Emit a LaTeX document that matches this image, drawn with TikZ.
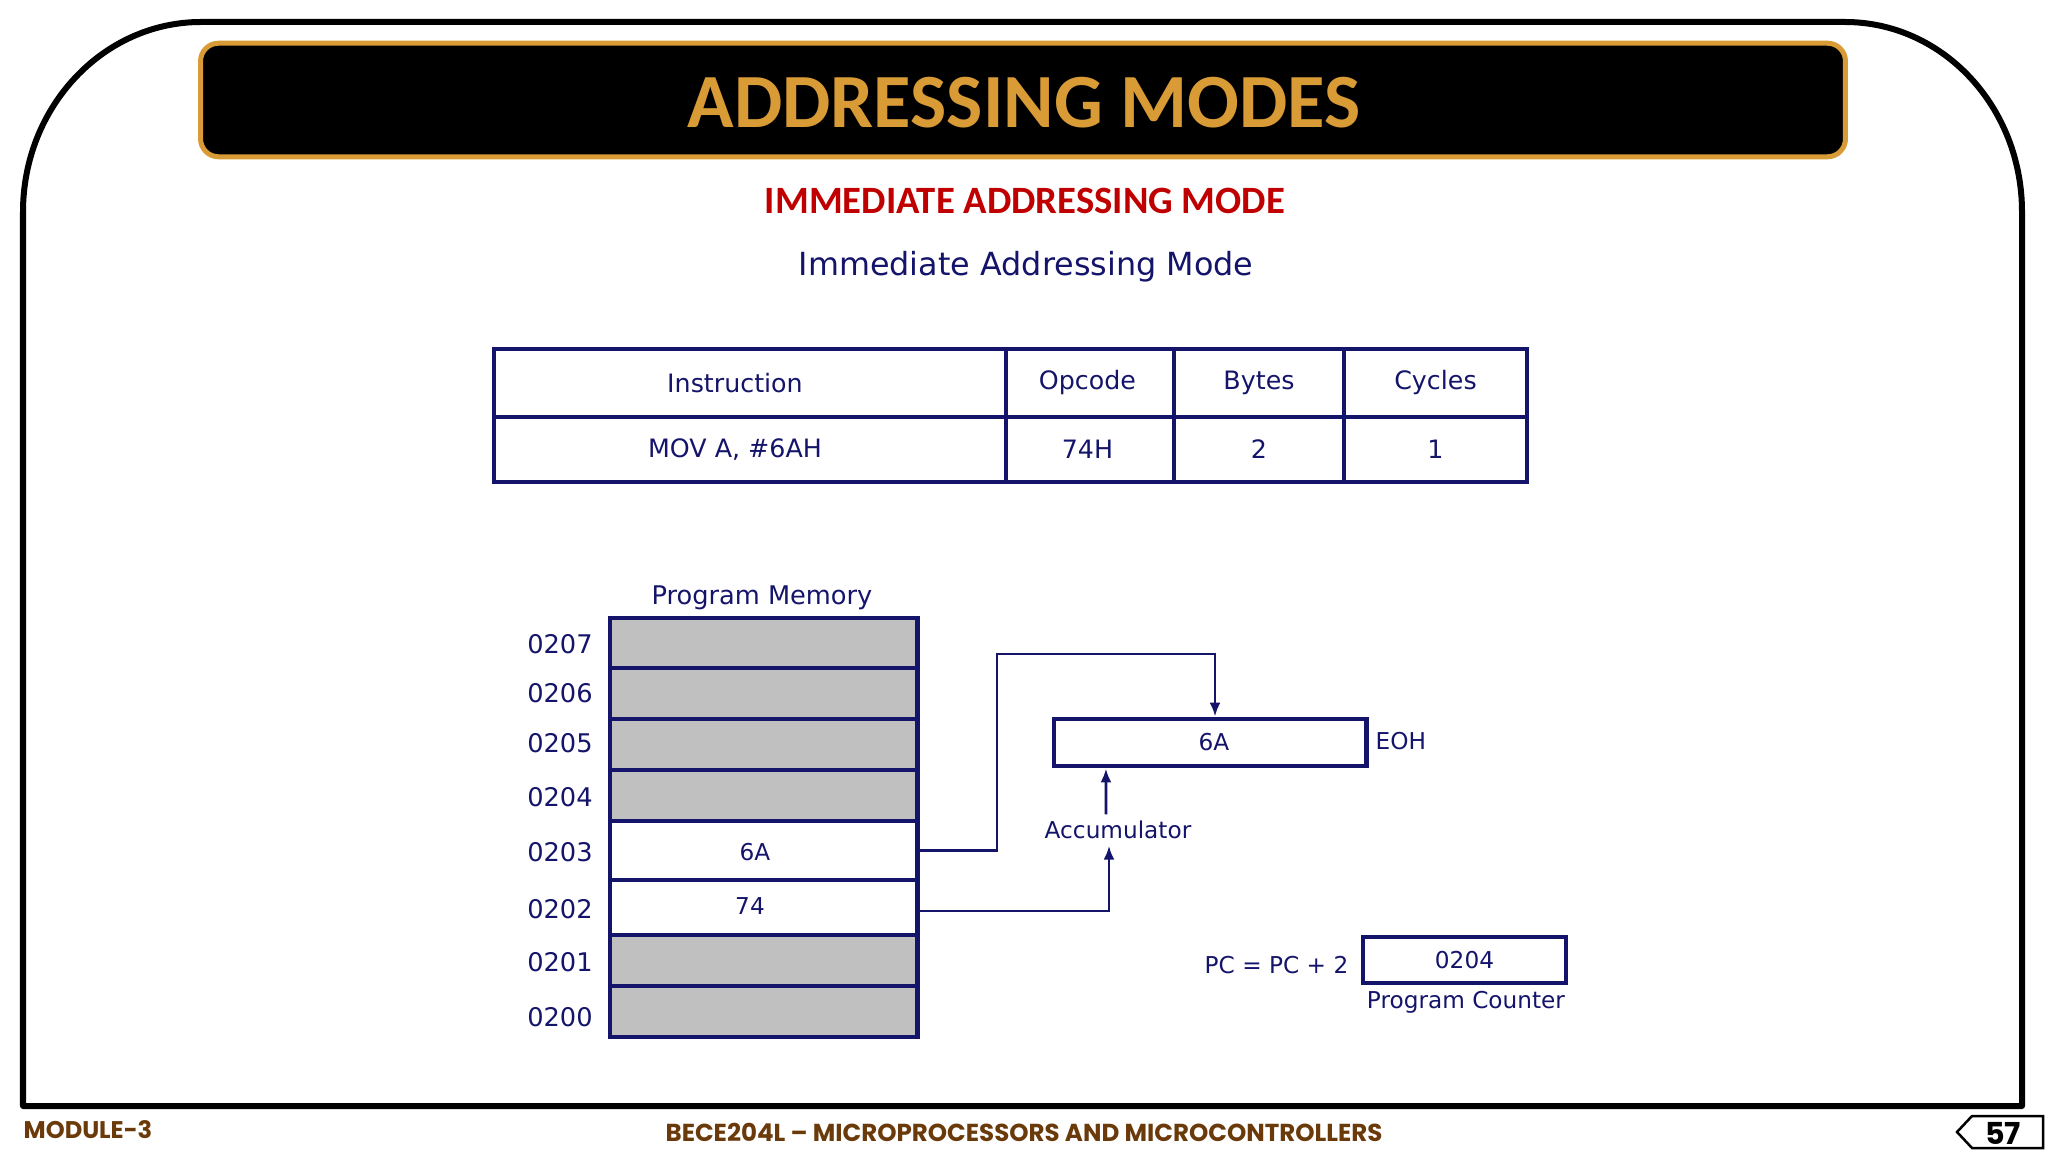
\documentclass[tikz,border=0pt]{standalone}
\usepackage{fontspec}
\usepackage{xcolor}
\usetikzlibrary{arrows.meta}
\setmainfont{DejaVu Sans}
\newfontfamily\headfont{Carlito}
\newfontfamily\footfont{Poppins}
\definecolor{navy}{HTML}{14146A}
\definecolor{gold}{HTML}{D89B35}
\definecolor{slidered}{HTML}{C00000}
\definecolor{footbrown}{HTML}{6B3A0B}
\definecolor{memgray}{HTML}{C0C0C0}
\tikzset{
    smalltext/.style={text=navy, inner sep=0pt, font=\fontsize{7.3}{9}\selectfont},
    tinytext/.style={text=navy, inner sep=0pt, font=\fontsize{6.6}{8}\selectfont},
    tablecell/.style={rectangle, draw=navy, line width=0.045cm, inner sep=0pt, text=navy, font=\fontsize{7.2}{9}\selectfont},
    memcell/.style={rectangle, draw=navy, line width=0.048cm, inner sep=0pt, minimum width=3.07cm},
    busy/.style={memcell, fill=memgray},
    free/.style={memcell, fill=white},
    regbox/.style={rectangle, draw=navy, line width=0.048cm, inner sep=0pt, fill=white, text=navy, font=\fontsize{6.6}{8}\selectfont},
    wire/.style={draw=navy, line width=0.028cm, -{Latex[length=0.14cm,width=0.11cm]}},
    footer/.style={text=footbrown, inner sep=0pt, font=\footfont\bfseries\fontsize{6.85}{8}\selectfont}
}

\begin{document}
\begin{tikzpicture}[x=0.01cm, y=-0.01cm]
    \useasboundingbox (0,0) rectangle (2048,1152);

    % slide frame
    \draw[black, line width=0.06cm, line join=round] (23,1106) -- (23,212) .. controls (23,107) and (103,22) .. (201,22) -- (1845,22) .. controls (1943,22) and (2022,107) .. (2022,212) -- (2022,1106) -- cycle;

    % heading
    \node[rectangle, rounded corners=0.18cm, draw=gold, fill=black, line width=0.05cm, minimum width=16.44cm, minimum height=1.135cm] (titlebar) at (1023,100) {};
    \node[text=gold, inner sep=0pt, font=\headfont\bfseries\fontsize{21.8}{26}\selectfont] (title) at (1024,103) {ADDRESSING MODES};
    \node[text=slidered, inner sep=0pt, font=\headfont\bfseries\fontsize{11}{13}\selectfont] (subtitle) at (1025,201) {IMMEDIATE ADDRESSING MODE};
    \node[text=navy, inner sep=0pt, font=\fontsize{9.05}{11}\selectfont] (modename) at (1026,267) {Immediate Addressing Mode};

    % table
    \node[tablecell, minimum width=5.12cm, minimum height=0.68cm] (instr) at (750,383) {\hspace*{-0.3cm}Instruction};
    \node[tablecell, minimum width=1.68cm, minimum height=0.68cm] (opcode) at (1090,383) {\hspace*{-0.05cm}Opcode};
    \node[tablecell, minimum width=1.70cm, minimum height=0.68cm] (bytes) at (1259,383) {Bytes};
    \node[tablecell, minimum width=1.83cm, minimum height=0.68cm] (cycles) at (1435.5,383) {Cycles};
    \node[tablecell, minimum width=5.12cm, minimum height=0.65cm] (mov) at (750,449.5) {\hspace*{-0.3cm}MOV A, \#6AH};
    \node[tablecell, minimum width=1.68cm, minimum height=0.65cm] (opval) at (1090,449.5) {\hspace*{-0.05cm}74H};
    \node[tablecell, minimum width=1.70cm, minimum height=0.65cm] (byteval) at (1259,449.5) {2};
    \node[tablecell, minimum width=1.83cm, minimum height=0.65cm] (cycleval) at (1435.5,449.5) {1};

    % program memory
    \node[smalltext] (memtitle) at (762,598) {Program Memory};
    \node[busy, minimum height=0.50cm] (m207) at (763.5,643) {};
    \node[busy, minimum height=0.51cm] (m206) at (763.5,693.5) {};
    \node[busy, minimum height=0.51cm] (m205) at (763.5,744.5) {};
    \node[busy, minimum height=0.51cm] (m204) at (763.5,795.5) {};
    \node[free, minimum height=0.59cm] (m203) at (763.5,850.5) {};
    \node[free, minimum height=0.55cm] (m202) at (763.5,907.5) {};
    \node[busy, minimum height=0.51cm] (m201) at (763.5,960.5) {};
    \node[busy, minimum height=0.51cm] (m200) at (763.5,1011.5) {};
    \node[tinytext] (v6a) at (755,852) {6A};
    \node[tinytext] (v74) at (750,906) {74};

    % addresses
    \node[smalltext] (a207) at (560,644) {0207};
    \node[smalltext] (a206) at (560,693) {0206};
    \node[smalltext] (a205) at (560,743) {0205};
    \node[smalltext] (a204) at (560,797) {0204};
    \node[smalltext] (a203) at (560,852) {0203};
    \node[smalltext] (a202) at (560,909) {0202};
    \node[smalltext] (a201) at (560,962) {0201};
    \node[smalltext] (a200) at (560,1017) {0200};

    % registers
    \node[regbox, minimum width=3.12cm, minimum height=0.47cm] (acc) at (1210,742.5) {\hspace*{0.08cm}6A};
    \node[tinytext, anchor=west] (eoh) at (1375,741) {EOH};
    \node[tinytext, minimum height=0.30cm] (acclabel) at (1118,830) {Accumulator};
    \node[regbox, minimum width=2.03cm, minimum height=0.46cm] (pc) at (1464.5,960) {0204};
    \node[tinytext, anchor=east] (pcnote) at (1349,965) {PC = PC + 2};
    \node[tinytext] (pclabel) at (1466,1002) {Program Counter};
    \coordinate (bend) at (997,654);

    \draw[wire] (m203.east) -| (bend) -| ([xshift=0.05cm]acc.north);
    \draw[wire] ([yshift=-0.035cm]m202.east) -| ([xshift=-0.09cm]acclabel.south);
    \draw[wire] ([xshift=-0.12cm]acclabel.north) -- ([xshift=-1.04cm]acc.south);

    % footer
    \node[footer, anchor=west] (module) at (23,1130) {MODULE-3};
    \node[footer, font=\footfont\bfseries\fontsize{6.98}{8}\selectfont] (course) at (1024,1132) {BECE204L – MICROPROCESSORS AND MICROCONTROLLERS};
    \node[inner sep=0pt, font=\footfont\bfseries\fontsize{8.6}{10}\selectfont] (page) at (2003,1133) {57};
    \draw[black, line width=0.025cm] (2043,1116) -- (1972,1116) -- (1957,1132) -- (1972,1148) -- (2043,1148) -- cycle;
\end{tikzpicture}
\end{document}
